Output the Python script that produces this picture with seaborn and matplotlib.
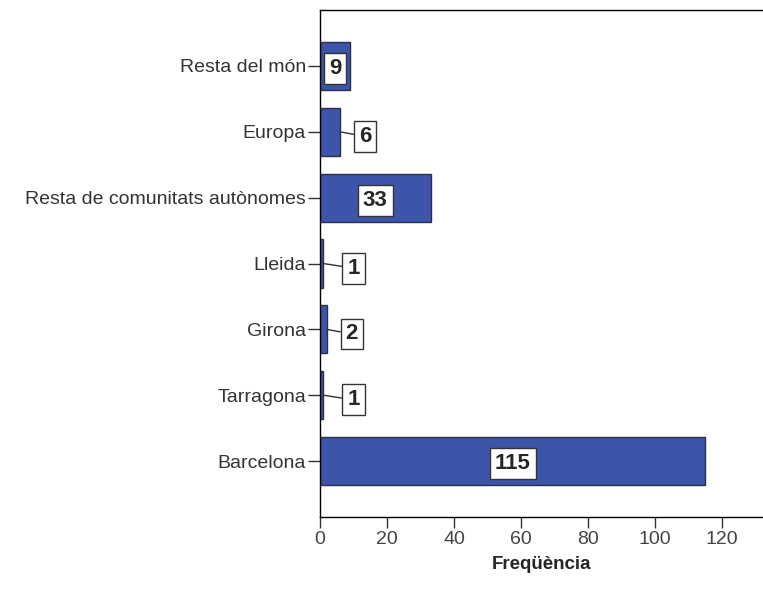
import matplotlib
matplotlib.use("Agg")
import matplotlib.pyplot as plt
import seaborn as sns
import pandas as pd

# Data
categories = ["Resta del món", "Europa", "Resta de comunitats autònomes",
              "Lleida", "Girona", "Tarragona", "Barcelona"]
counts = [9, 6, 33, 1, 2, 1, 115]
x_ticks = [0, 20, 40, 60, 80, 100, 120]

df = pd.DataFrame({"Origen": categories, "Freq": counts})

sns.set_style("white")
plt.rcParams["font.family"] = ["Liberation Sans", "DejaVu Sans"]

fig = plt.figure(figsize=(7.63, 5.90), dpi=100)
ax = fig.add_axes([0.4194, 0.1237, 0.5806, 0.8593])

sns.barplot(data=df, x="Freq", y="Origen", orient="h", color="#3c55a8",
            edgecolor="#2a2f4a", linewidth=1.0, width=0.73, saturation=1, ax=ax)

ax.set_xlim(0, 132.2)
ax.set_ylim(6.85, -0.85)
ax.set_xticks(x_ticks)
ax.set_xticklabels([str(t) for t in x_ticks], fontsize=14, color="#444444")
ax.set_yticks(range(len(categories)))
ax.set_yticklabels(categories, fontsize=14, color="#333333")
ax.set_ylabel("")
ax.set_xlabel("Freqüència", fontsize=13.5, fontweight="bold", labelpad=6)

for side in ["left", "bottom", "top"]:
    ax.spines[side].set_color("black")
    ax.spines[side].set_linewidth(1.0)
ax.spines["right"].set_visible(False)
ax.tick_params(axis="y", direction="out", length=9, width=1,
               color="#333333", left=True, pad=1)
ax.tick_params(axis="x", direction="out", length=8, width=1,
               color="#333333", bottom=True, pad=2)

# value labels: inside for wide bars, outside with leader for small ones
for i, v in enumerate(counts):
    box = dict(boxstyle="square,pad=0.22", fc="white", ec="#333333", lw=1)
    if v >= 8:
        ax.text(v / 2, i + 0.04, str(v), ha="center", va="center", fontsize=16,
                fontweight="bold", bbox=box)
    else:
        lx = v + 7.5 if v > 1 else v + 9
        ax.annotate(str(v), xy=(v, i), xytext=(lx, i + 0.07), ha="center",
                    va="center", fontsize=16, fontweight="bold", bbox=box,
                    arrowprops=dict(arrowstyle="-", color="#333333", lw=1,
                                    shrinkA=0, shrinkB=0))

fig.savefig("out.png", dpi=100)
